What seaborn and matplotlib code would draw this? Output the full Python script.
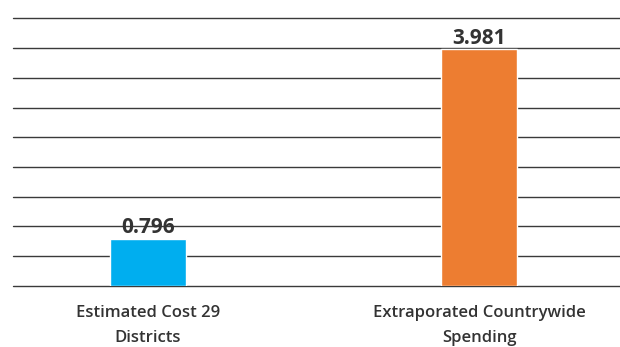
import matplotlib
matplotlib.use("Agg")
import matplotlib.pyplot as plt
import seaborn as sns
import numpy as np
import pandas as pd

categories = ["Estimated Cost 29\nDistricts", "Extraporated Countrywide\nSpending"]
values = [0.796, 3.981]
bar_colors = ["#00AEEF", "#ED7D31"]
grid_ticks = [0.0, 0.5, 1.0, 1.5, 2.0, 2.5, 3.0, 3.5, 4.0, 4.5]

sns.set_theme(style="white")
plt.rcParams["font.family"] = ["Open Sans", "DejaVu Sans"]

df = pd.DataFrame({"category": categories, "value": values})

fig = plt.figure(figsize=(6.2, 3.47), dpi=100)
ax = fig.add_axes([0.021, 0.176, 0.979, 0.771])

sns.barplot(data=df, x="category", y="value", hue="category",
            palette=bar_colors, width=0.23, legend=False, ax=ax, zorder=3,
            saturation=1)

ax.set_ylim(0, 4.5)
ax.set_xlim(-0.408, 1.426)
ax.set_yticks(grid_ticks)
ax.set_yticklabels([])
ax.yaxis.grid(True, color="#3a3a3a", linewidth=1.0)
for gl in ax.yaxis.get_gridlines():
    gl.set_clip_on(False)
ax.set_axisbelow(True)
ax.tick_params(axis="both", length=0)
for s in ax.spines.values():
    s.set_visible(False)
ax.set_xlabel("")
ax.set_ylabel("")

ax.set_xticks(range(len(categories)))
ax.set_xticklabels(categories, fontsize=12, fontweight="semibold",
                   color="#333333", linespacing=1.75)
ax.tick_params(axis="x", pad=14)

for i, v in enumerate(values):
    ax.annotate(f"{v:.3f}", xy=(i, v), xytext=(0, 0.5), textcoords="offset points",
                ha="center", va="bottom", fontsize=15, fontweight="bold",
                color="#333333", zorder=4)

fig.savefig("out.png", dpi=100)
